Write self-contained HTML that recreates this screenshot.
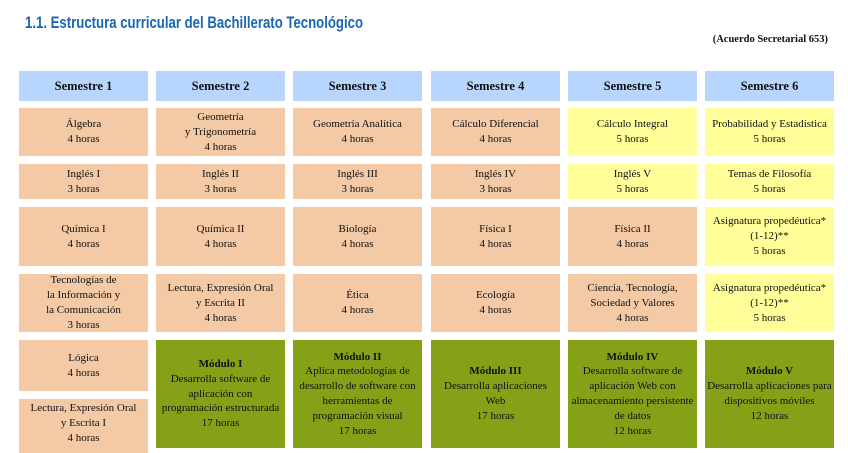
<!DOCTYPE html>
<html><head><meta charset="utf-8"><style>
body{margin:0;width:848px;height:448px;background:#fff;position:relative;overflow:hidden;font-family:"Liberation Serif",serif;color:#111}
.t{position:absolute;left:25px;top:13px;font:bold 17px "Liberation Sans",sans-serif;color:#1866b4;transform:scaleX(0.775);transform-origin:0 0;white-space:nowrap}
.a{position:absolute;right:20px;top:34px;font-weight:bold;font-size:10.5px}
.b{position:absolute;width:129px;display:flex;align-items:center;justify-content:center;text-align:center;font-size:11px;line-height:15px}
.h{background:#b8d5fe;font-weight:bold;font-size:12.5px}
.p{background:#f3c9a6}
.y{background:#fffe98}
.g{background:#84a117;line-height:14.8px}
</style></head><body>
<div class="t">1.1. Estructura curricular del Bachillerato Tecnológico</div>
<div class="a">(Acuerdo Secretarial 653)</div>

<div class="b h" style="left:19px;top:71px;height:30px">Semestre 1</div>
<div class="b h" style="left:156px;top:71px;height:30px">Semestre 2</div>
<div class="b h" style="left:293px;top:71px;height:30px">Semestre 3</div>
<div class="b h" style="left:431px;top:71px;height:30px">Semestre 4</div>
<div class="b h" style="left:568px;top:71px;height:30px">Semestre 5</div>
<div class="b h" style="left:705px;top:71px;height:30px">Semestre 6</div>

<div class="b p" style="left:19px;top:108px;height:48px">Álgebra<br>4 horas</div>
<div class="b p" style="left:156px;top:108px;height:48px">Geometría<br>y Trigonometría<br>4 horas</div>
<div class="b p" style="left:293px;top:108px;height:48px">Geometría Analítica<br>4 horas</div>
<div class="b p" style="left:431px;top:108px;height:48px">Cálculo Diferencial<br>4 horas</div>
<div class="b y" style="left:568px;top:108px;height:48px">Cálculo Integral<br>5 horas</div>
<div class="b y" style="left:705px;top:108px;height:48px">Probabilidad y Estadística<br>5 horas</div>

<div class="b p" style="left:19px;top:164px;height:35px">Inglés I<br>3 horas</div>
<div class="b p" style="left:156px;top:164px;height:35px">Inglés II<br>3 horas</div>
<div class="b p" style="left:293px;top:164px;height:35px">Inglés III<br>3 horas</div>
<div class="b p" style="left:431px;top:164px;height:35px">Inglés IV<br>3 horas</div>
<div class="b y" style="left:568px;top:164px;height:35px">Inglés V<br>5 horas</div>
<div class="b y" style="left:705px;top:164px;height:35px">Temas de Filosofía<br>5 horas</div>

<div class="b p" style="left:19px;top:207px;height:59px">Química I<br>4 horas</div>
<div class="b p" style="left:156px;top:207px;height:59px">Química II<br>4 horas</div>
<div class="b p" style="left:293px;top:207px;height:59px">Biología<br>4 horas</div>
<div class="b p" style="left:431px;top:207px;height:59px">Física I<br>4 horas</div>
<div class="b p" style="left:568px;top:207px;height:59px">Física II<br>4 horas</div>
<div class="b y" style="left:705px;top:207px;height:59px">Asignatura propedéutica*<br>(1-12)**<br>5 horas</div>

<div class="b p" style="left:19px;top:274px;height:58px">Tecnologías de<br>la Información y<br>la Comunicación<br>3 horas</div>
<div class="b p" style="left:156px;top:274px;height:58px">Lectura, Expresión Oral<br>y Escrita II<br>4 horas</div>
<div class="b p" style="left:293px;top:274px;height:58px">Ética<br>4 horas</div>
<div class="b p" style="left:431px;top:274px;height:58px">Ecología<br>4 horas</div>
<div class="b p" style="left:568px;top:274px;height:58px">Ciencia, Tecnología,<br>Sociedad y Valores<br>4 horas</div>
<div class="b y" style="left:705px;top:274px;height:58px">Asignatura propedéutica*<br>(1-12)**<br>5 horas</div>

<div class="b p" style="left:19px;top:340px;height:51px">Lógica<br>4 horas</div>
<div class="b p" style="left:19px;top:399px;height:52px;align-items:flex-start;padding-top:2px">Lectura, Expresión Oral<br>y Escrita I<br>4 horas</div>
<div class="b g" style="left:156px;top:340px;height:108px"><div><b>Módulo I</b><br>Desarrolla software de<br>aplicación con<br>programación estructurada<br>17 horas</div></div>
<div class="b g" style="left:293px;top:340px;height:108px"><div><b>Módulo II</b><br>Aplica metodologías de<br>desarrollo de software con<br>herramientas de<br>programación visual<br>17 horas</div></div>
<div class="b g" style="left:431px;top:340px;height:108px"><div><b>Módulo III</b><br>Desarrolla aplicaciones<br>Web<br>17 horas</div></div>
<div class="b g" style="left:568px;top:340px;height:108px"><div><b>Módulo IV</b><br>Desarrolla software de<br>aplicación Web con<br>almacenamiento persistente<br>de datos<br>12 horas</div></div>
<div class="b g" style="left:705px;top:340px;height:108px"><div><b>Módulo V</b><br>Desarrolla aplicaciones para<br>dispositivos móviles<br>12 horas</div></div>
</body></html>
